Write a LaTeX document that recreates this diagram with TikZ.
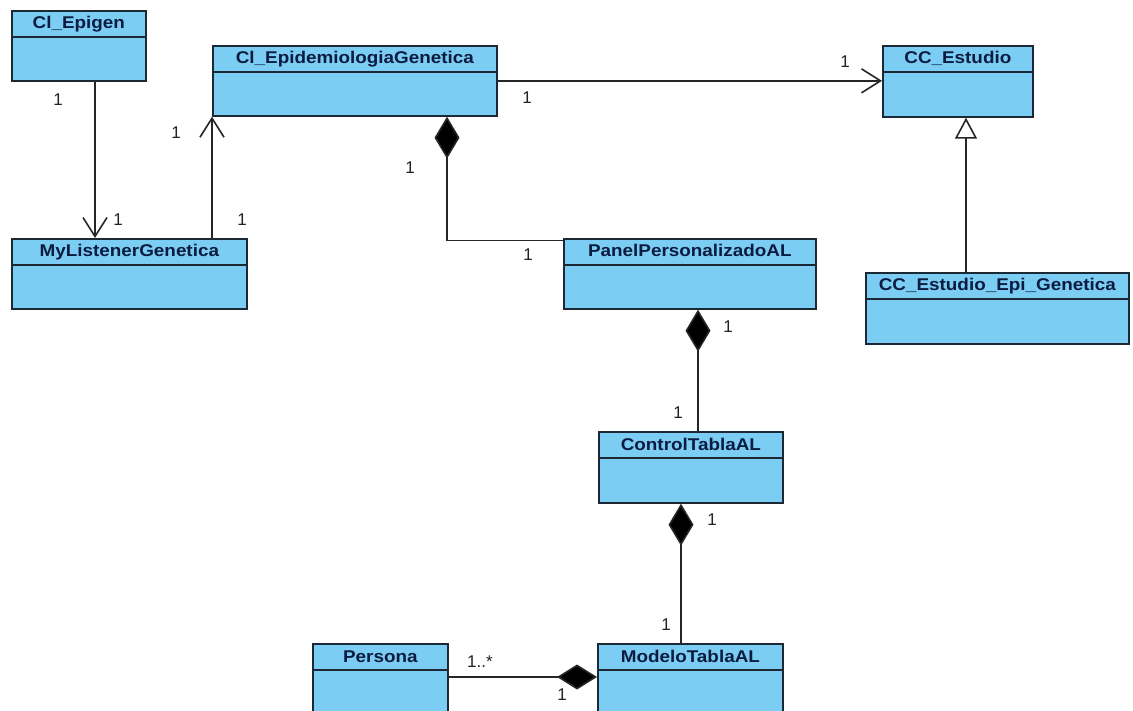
\documentclass[tikz,border=0pt]{standalone}
\usepackage{fontspec}
\setmainfont{Liberation Sans}
\usetikzlibrary{arrows.meta}
\definecolor{clsfill}{HTML}{7BCDF3}
\definecolor{clsline}{HTML}{1C2833}
\definecolor{clstext}{HTML}{0B1C40}
\definecolor{lbltext}{HTML}{222222}
\tikzset{
  cls/.style={draw=clsline, fill=clsfill, line width=1.7pt, rectangle, inner sep=0pt, anchor=north west},
  clstitle/.style={text=clstext, font=\bfseries\fontsize{17}{19}\selectfont, inner sep=0pt, anchor=base},
  conn/.style={draw=black!85, line width=1.6pt},
  mult/.style={text=lbltext, font=\fontsize{17}{19}\selectfont, inner sep=0pt},
  assocarrow/.style={-{Straight Barb[length=19pt,width=24pt,line width=1.6pt]}},
  compos/.style={{Diamond[length=42pt,width=25pt,fill=black]}-},
  composend/.style={-{Diamond[length=40pt,width=25pt,fill=black]}},
  generaliz/.style={-{Triangle[open,length=21pt,width=22pt,fill=white,line width=1.6pt]}}
}
\newcommand{\umlclass}[6]{%
  \node[cls, minimum width=#4pt-#2pt, minimum height=#5pt-#3pt] (#1) at (#2,#3) {};
  \draw[draw=clsline, line width=1.7pt] ([yshift=-27pt]#1.north west) -- ([yshift=-27pt]#1.north east);
  \node[clstitle] (#1-title) at ([yshift=-19pt]#1.north) {\scalebox{1.11}[1]{#6}};
}
\begin{document}
\begin{tikzpicture}[x=1pt,y=-1pt]
\useasboundingbox (0,0) rectangle (1133,711);
\fill[white] (0,0) rectangle (1133,711);
\begin{scope}
\clip (0,0) rectangle (1133,711);
\umlclass{epigen}{11}{10}{145}{80}{Cl\_Epigen}
\umlclass{listener}{11}{238}{246}{308}{MyListenerGenetica}
\umlclass{epi}{212}{45}{496}{115}{Cl\_EpidemiologiaGenetica}
\umlclass{estudio}{882}{45}{1032}{116}{CC\_Estudio}
\umlclass{estepi}{865}{272}{1128}{343}{CC\_Estudio\_Epi\_Genetica}
\umlclass{panel}{563}{238}{815}{308}{PanelPersonalizadoAL}
\umlclass{control}{598}{431}{782}{502}{ControlTablaAL}
\umlclass{modelo}{597}{643}{782}{713}{ModeloTablaAL}
\umlclass{persona}{312}{643}{447}{713}{Persona}
\end{scope}

% connectors
\draw[conn, assocarrow] ([xshift=84pt]epigen.south west) -- ([xshift=84pt]listener.north west);
\draw[conn, assocarrow] ([xshift=201pt]listener.north west) -- (epi.south west);
\draw[conn, assocarrow] (epi.east) -- (epi.east -| estudio.west);
\coordinate (epibend) at ([xshift=235pt,yshift=-124pt]epi.south west);
\draw[conn, compos] ([xshift=235pt]epi.south west) -- (epibend) -- (epibend -| panel.west);
\draw[conn, compos] ([xshift=135pt]panel.south west) -- ([xshift=100pt]control.north west);
\draw[conn, compos] ([xshift=83pt]control.south west) -- ([xshift=84pt]modelo.north west);
\draw[conn, composend] ([yshift=-34pt]persona.north east) -- ([yshift=-34pt]persona.north east -| modelo.west);
\draw[conn, generaliz] ([xshift=101pt]estepi.north west) -- ([xshift=84pt]estudio.south west);

% multiplicities
\node[mult] (m1) at (58,100) {1};
\node[mult] (m2) at (118,220) {1};
\node[mult] (m3) at (176,133) {1};
\node[mult] (m4) at (242,220) {1};
\node[mult] (m5) at (410,168) {1};
\node[mult] (m6) at (528,255) {1};
\node[mult] (m7) at (527,98) {1};
\node[mult] (m8) at (845,62) {1};
\node[mult] (m9) at (728,327) {1};
\node[mult] (m10) at (678,413) {1};
\node[mult] (m11) at (712,520) {1};
\node[mult] (m12) at (666,625) {1};
\node[mult] (m13) at (480,662) {1..*};
\node[mult] (m14) at (562,695) {1};
\end{tikzpicture}
\end{document}
